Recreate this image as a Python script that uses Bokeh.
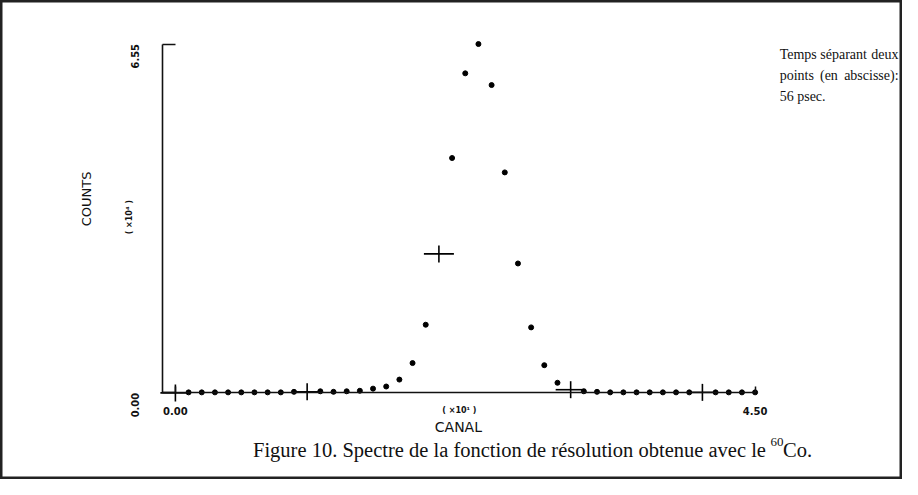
import numpy as np
from bokeh.plotting import figure
from bokeh.models import Range1d, FixedTicker, Label, PrintfTickFormatter
from bokeh.embed import file_html
from bokeh.resources import INLINE

# ---- data (counts in units of 10^4, channel index) ----
channels = list(range(45))
counts = [0.00, 0.01, 0.01, 0.01, 0.01, 0.01, 0.01, 0.01, 0.01, 0.02,
          0.02, 0.03, 0.02, 0.03, 0.04, 0.08, 0.12, 0.25, 0.56, 1.28,
          2.61, 4.41, 6.00, 6.55, 5.78, 4.14, 2.43, 1.23, 0.52, 0.19,
          0.06, 0.03, 0.02, 0.01, 0.01, 0.01, 0.01, 0.01, 0.01, 0.01,
          0.01, 0.01, 0.01, 0.01, 0.01]
x_tick_values = [0, 44]
x_tick_labels = ["0.00", "4.50"]
y_tick_values = [0, 6.55]

cross_every = 10
dot_x = [c for c in channels if c % cross_every != 0]
dot_y = [counts[c] for c in channels if c % cross_every != 0]
crs_x = [c for c in channels if c % cross_every == 0]
crs_y = [counts[c] for c in channels if c % cross_every == 0]

# ---- geometry (figure pixels) ----
W, H = 902, 479
SX, SY = W / 918, H / 495
X0_PX, PX_PER_CH = 178 * SX, (768 - 178) * SX / 44
Y0_PX, PX_PER_UNIT = 405.5 * SY, (405.5 - 45) * SY / 6.55

x_start = -X0_PX / PX_PER_CH
x_end = x_start + W / PX_PER_CH
y_end = Y0_PX / PX_PER_UNIT
y_start = y_end - H / PX_PER_UNIT

def dx(X):   # reference-picture x -> data x
    return (X * SX - X0_PX) / PX_PER_CH

def dy(Y):   # reference-picture y -> data y
    return (Y0_PX - Y * SY) / PX_PER_UNIT

y_axis_at = dx(165)

p = figure(width=W, height=H, output_backend="svg", toolbar_location=None,
           x_range=Range1d(x_start, x_end), y_range=Range1d(y_start, y_end),
           min_border_left=0, min_border_right=0,
           min_border_top=0, min_border_bottom=0)
p.grid.visible = False
p.outline_line_color = "#222"
p.outline_line_width = 4
p.background_fill_color = "white"
p.border_fill_color = "white"

narrow = "'Liberation Sans Narrow', 'DejaVu Sans Condensed', 'DejaVu Sans'"

# axes
xa = p.xaxis[0]
xa.fixed_location = 0
xa.bounds = (y_axis_at, 44)
xa.ticker = FixedTicker(ticks=x_tick_values)
xa.major_label_overrides = dict(zip(x_tick_values, x_tick_labels))
xa.major_tick_in = 6
xa.major_tick_out = 0
xa.minor_tick_in = 0
xa.minor_tick_out = 0
xa.axis_line_width = 1.6
xa.axis_line_color = "#111"
xa.major_tick_line_color = "#111"
xa.major_tick_line_width = 1.5
xa.major_label_standoff = 14
xa.major_label_text_font = "DejaVu Sans"
xa.major_label_text_font_style = "bold"
xa.major_label_text_font_size = "10px"
xa.major_label_text_color = "#111"

ya = p.yaxis[0]
ya.fixed_location = y_axis_at
ya.bounds = (0, 6.55)
ya.ticker = FixedTicker(ticks=y_tick_values)
ya.formatter = PrintfTickFormatter(format="%.2f")
ya.major_tick_in = 13
ya.major_tick_out = 0
ya.minor_tick_in = 0
ya.minor_tick_out = 0
ya.axis_line_width = 1.6
ya.axis_line_color = "#111"
ya.major_tick_line_color = "#111"
ya.major_tick_line_width = 1.6
ya.major_label_orientation = np.pi / 2
ya.major_label_standoff = 28
ya.major_label_text_font = narrow
ya.major_label_text_font_style = "bold"
ya.major_label_text_font_size = "11px"
ya.major_label_text_color = "#111"

# data marks
p.scatter(x=dot_x, y=dot_y, size=5, color="black")
p.scatter(x=crs_x, y=crs_y, marker="dash", size=30, line_width=1.6, line_color="black")
p.scatter(x=crs_x, y=crs_y, marker="dash", angle=np.pi / 2, size=17,
          line_width=1.6, line_color="black")

def lab(text, x, y, size, font="DejaVu Sans", style="normal", angle=0,
        align="center", baseline="middle"):
    p.add_layout(Label(x=dx(x), y=dy(y), text=text, text_font=font,
                       text_font_size=size, text_font_style=style, angle=angle,
                       text_align=align, text_baseline=baseline, text_color="#111"))

lab("COUNTS", 88, 205, "13px", angle=np.pi / 2)
lab("( ×10⁴ )", 131, 224, "8px", style="bold", angle=np.pi / 2)
lab("( ×10¹ )", 467, 424, "8px", style="bold")
lab("CANAL", 466, 441, "14px")

serif = "Liberation Serif"
lab("Temps séparant", 793, 56, "14px", font=serif, align="left", baseline="alphabetic")
lab("deux", 914, 56, "14px", font=serif, align="right", baseline="alphabetic")
lab("points", 793, 78, "14px", font=serif, align="left", baseline="alphabetic")
lab("(en", 834, 78, "14px", font=serif, align="left", baseline="alphabetic")
lab("abscisse):", 914, 78, "14px", font=serif, align="right", baseline="alphabetic")
lab("56 psec.", 793, 99, "14px", font=serif, align="left", baseline="alphabetic")

lab("Figure 10. Spectre de la fonction de résolution obtenue avec le",
    779, 464, "20.5px", font=serif, align="right", baseline="alphabetic")
lab("60", 797, 456, "13px", font=serif, align="right", baseline="alphabetic")
lab("Co.", 826, 464, "20.5px", font=serif, align="right", baseline="alphabetic")

open("out.html", "w").write(file_html(p, INLINE))
